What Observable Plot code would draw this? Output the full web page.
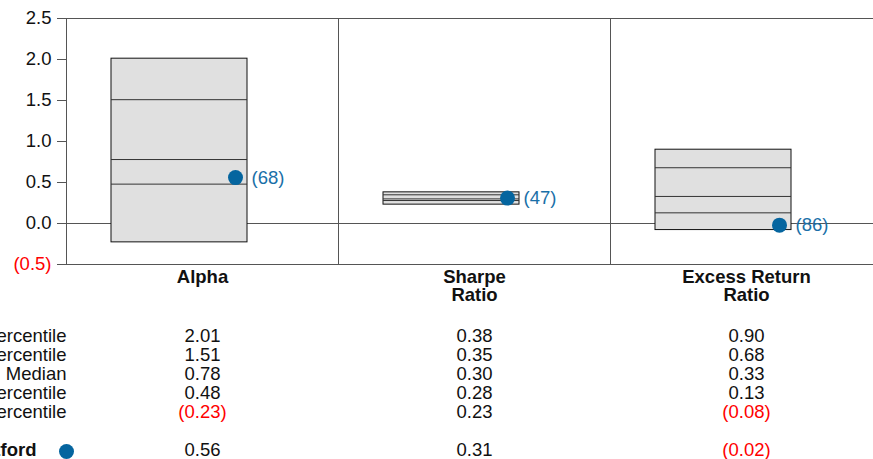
<!DOCTYPE html>
<html><head><meta charset="utf-8">
<script src="https://cdn.jsdelivr.net/npm/d3@7"></script>
<script src="https://cdn.jsdelivr.net/npm/@observablehq/plot@0.6"></script>
<style>
body{margin:0;background:#fff;}
</style>
</head><body>
<div id="chart"></div>
<script>
const categories = ["Alpha", "Sharpe\nRatio", "Excess Return\nRatio"];
const p95 = [2.01, 0.38, 0.90];
const p75 = [1.51, 0.35, 0.68];
const median = [0.78, 0.30, 0.33];
const p25 = [0.48, 0.28, 0.13];
const p5 = [-0.23, 0.23, -0.08];
const fund = [0.56, 0.31, -0.02];
const fundRank = [68, 47, 86];
const rowLabels = ["95th Percentile", "75th Percentile", "Median", "25th Percentile", "5th Percentile"];
const fundName = "Hartford";
const yTicks = [-0.5, 0, 0.5, 1.0, 1.5, 2.0, 2.5];

const data = categories.map((c, i) => ({cat: c, p95: p95[i], p75: p75[i], median: median[i], p25: p25[i], p5: p5[i], fund: fund[i], rank: fundRank[i]}));
const innerLines = data.flatMap(d => [{cat: d.cat, v: d.p75}, {cat: d.cat, v: d.median}, {cat: d.cat, v: d.p25}]);

const fmt2 = v => v < 0 ? `(${Math.abs(v).toFixed(2)})` : v.toFixed(2);
const fmt1 = v => v < 0 ? `(${Math.abs(v).toFixed(1)})` : v.toFixed(1);
const neg = v => v < 0 ? "#ff0000" : "#111";

const tableRows = [p95, p75, median, p25, p5];
const rowOffsets = [77, 96, 115, 134, 153];
const fundOffset = 191;
const FS = 18.5;

const marks = [
  Plot.ruleY([2.5, 0, -0.5], {stroke: "#555", strokeWidth: 1}),
  Plot.ruleX(categories, {x: d => d, dx: -136, stroke: "#555", strokeWidth: 1}),
  Plot.axisY({ticks: yTicks, tickSize: 9, tickFormat: () => "", stroke: "#555"}),
  Plot.text(yTicks, {y: d => d, text: fmt1, frameAnchor: "left", textAnchor: "end", dx: -15, fill: neg, fontSize: FS}),
  Plot.barY(data, {x: "cat", y1: "p5", y2: "p95", insetLeft: 45, insetRight: 91, fill: "#e0e0e0", stroke: "#111", strokeWidth: 1}),
  Plot.tickY(innerLines, {x: "cat", y: "v", insetLeft: 45, insetRight: 91, stroke: "#333", strokeWidth: 1}),
  Plot.dot(data, {x: "cat", y: "fund", r: 7.5, fill: "#05659f", dx: 33}),
  Plot.text(data, {x: "cat", y: "fund", text: d => `(${d.rank})`, dx: 49, textAnchor: "start", fill: "#1a6fa8", fontSize: FS}),
  Plot.text(data, {x: "cat", text: "cat", frameAnchor: "bottom", lineAnchor: "top", dy: 6, fontWeight: "bold", fontSize: FS, lineHeight: 0.95, fill: "#111"})
];
tableRows.forEach((row, r) => {
  marks.push(Plot.text(data, {x: "cat", text: (d, i) => fmt2(row[i]), frameAnchor: "bottom", dy: rowOffsets[r], fill: (d, i) => neg(row[i]), fontSize: FS}));
  marks.push(Plot.text([rowLabels[r]], {frameAnchor: "bottom-left", textAnchor: "end", dy: rowOffsets[r], fill: "#111", fontSize: FS}));
});
marks.push(Plot.text(data, {x: "cat", text: d => fmt2(d.fund), frameAnchor: "bottom", dy: fundOffset, fill: d => neg(d.fund), fontSize: FS}));
marks.push(Plot.text([fundName], {frameAnchor: "bottom-left", textAnchor: "end", dx: -30, dy: fundOffset, fill: "#111", fontSize: FS, fontWeight: "bold"}));
marks.push(Plot.dot([fundName], {frameAnchor: "bottom-left", dy: 187, r: 7.5, fill: "#05659f"}));

const chart = Plot.plot({
  width: 873,
  height: 459,
  marginTop: 18,
  marginBottom: 195,
  marginLeft: 66,
  marginRight: 0,
  style: {fontFamily: "'Liberation Sans', Arial, sans-serif", fontSize: "18px", color: "#111", background: "#fff"},
  x: {type: "band", domain: categories, range: [66, 882], padding: 0, axis: null},
  y: {domain: [-0.5, 2.5], range: [264, 18], axis: null},
  marks
});
document.getElementById("chart").appendChild(chart);
</script>
</body></html>
